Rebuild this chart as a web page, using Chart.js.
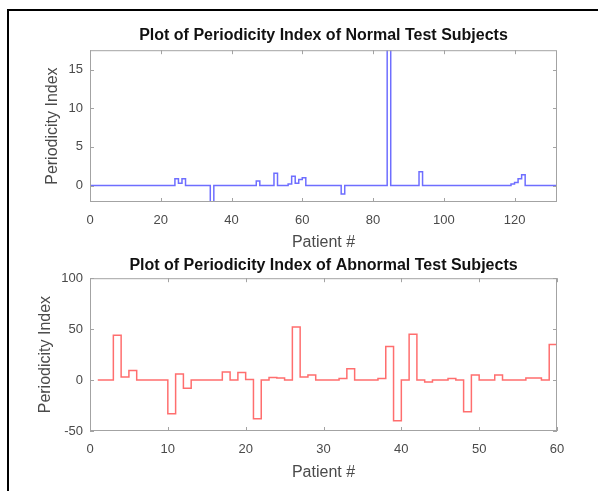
<!DOCTYPE html>
<html>
<head>
<meta charset="utf-8">
<script src="https://cdn.jsdelivr.net/npm/chart.js@4/dist/chart.umd.min.js"></script>
<style>
  html, body { margin: 0; padding: 0; background: #fff; }
  #page { position: relative; width: 598px; height: 491px; overflow: hidden; background: #fff; }
  #frame { position: absolute; left: 7px; top: 9px; width: 640px; height: 520px; border-left: 2px solid #000; border-top: 2px solid #000; }
  canvas { position: absolute; left: 0; }
  #normal-chart { top: 0; }
  #abnormal-chart { top: 250px; }
</style>
</head>
<body>
<div id="page">
  <div id="frame"></div>
  <canvas id="normal-chart" width="598" height="255"></canvas>
  <canvas id="abnormal-chart" width="598" height="241"></canvas>
</div>
<script>
// Periodicity index of normal subjects, patient 0..132 (stairs)
const normalValues = [
  0, 0, 0, 0, 0, 0, 0, 0, 0, 0,
  0, 0, 0, 0, 0, 0, 0, 0, 0, 0,
  0, 0, 0, 0, 0.9, 0.3, 0.9, 0, 0, 0,
  0, 0, 0, 0, -2.1, 0, 0, 0, 0, 0,
  0, 0, 0, 0, 0, 0, 0, 0.6, 0, 0,
  0, 0, 1.6, 0, 0, 0, 0.2, 1.2, 0.3, 0.8,
  1.0, 0, 0, 0, 0, 0, 0, 0, 0, 0,
  0, -1.1, 0, 0, 0, 0, 0, 0, 0, 0,
  0, 0, 0, 0, 40, 0, 0, 0, 0, 0,
  0, 0, 0, 1.8, 0, 0, 0, 0, 0, 0,
  0, 0, 0, 0, 0, 0, 0, 0, 0, 0,
  0, 0, 0, 0, 0, 0, 0, 0, 0, 0.2,
  0.4, 0.9, 1.4, 0, 0, 0, 0, 0, 0, 0,
  0, 0, 0
];

// Periodicity index of abnormal subjects, patient 1..60 (stairs)
const abnormalValues = [
  0, 0, 44, 3, 9.5, 0, 0, 0, 0, -33,
  6, -8, 0, 0, 0, 0, 8, 0, 7.5, 0.5,
  -38, 0, 2.5, 2, 0, 52, 3, 5, 0, 0,
  0, 1.5, 11, 0, 0, 0, 1.5, 33, -40, 0,
  45, 0, -2, 0, 0, 1.5, 0, -31, 5, 0,
  0, 5, 0, 0, 0, 2, 2, 0, 35, 0
];

const normalXTicks = [0, 20, 40, 60, 80, 100, 120];
const normalYTicks = [0, 5, 10, 15];
const abnormalXTicks = [0, 10, 20, 30, 40, 50, 60];
const abnormalYTicks = [-50, 0, 50, 100];

Chart.defaults.font.family = '"Liberation Sans", Arial, Helvetica, sans-serif';
Chart.defaults.color = '#4a4a4a';

// MATLAB-like box with inward tick marks
const axesBox = {
  id: 'axesBox',
  afterDraw(chart) {
    const { ctx, chartArea: a, scales: { x, y } } = chart;
    ctx.save();
    ctx.strokeStyle = '#a3a3a3';
    ctx.lineWidth = 1;
    ctx.strokeRect(a.left + 0.5, a.top + 0.5, a.right - a.left - 1, a.bottom - a.top - 1);
    ctx.beginPath();
    x.ticks.forEach(t => {
      const px = Math.round(x.getPixelForValue(t.value)) + 0.5;
      ctx.moveTo(px, a.bottom); ctx.lineTo(px, a.bottom - 4);
      ctx.moveTo(px, a.top); ctx.lineTo(px, a.top + 4);
    });
    y.ticks.forEach(t => {
      const py = Math.round(y.getPixelForValue(t.value)) + 0.5;
      ctx.moveTo(a.left, py); ctx.lineTo(a.left + 4, py);
      ctx.moveTo(a.right, py); ctx.lineTo(a.right - 4, py);
    });
    ctx.stroke();
    ctx.restore();
  }
};

function makeChart(canvasId, opts) {
  const points = opts.values.map((v, i) => ({ x: opts.firstX + i, y: v }));
  return new Chart(document.getElementById(canvasId), {
    type: 'line',
    data: {
      datasets: [{
        data: points,
        stepped: true,
        borderColor: opts.color,
        borderWidth: 1.5,
        pointRadius: 0,
        fill: false
      }]
    },
    options: {
      responsive: false,
      animation: false,
      devicePixelRatio: 1,
      layout: { padding: { left: 0, right: 41, top: 0, bottom: 0 } },
      plugins: {
        legend: { display: false },
        tooltip: { enabled: false },
        title: {
          display: true,
          text: opts.title,
          fullSize: false,
          color: '#111',
          font: { size: 16, weight: 'bold' },
          padding: opts.titlePadding
        }
      },
      scales: {
        x: {
          type: 'linear',
          min: opts.xMin,
          max: opts.xMax,
          grid: { display: false, drawTicks: false },
          border: { display: false },
          ticks: { font: { size: 13 }, padding: 11 },
          afterBuildTicks: s => { s.ticks = opts.xTicks.map(v => ({ value: v })); },
          afterFit: s => { s.height = opts.xAxisHeight; },
          title: { display: true, text: 'Patient #', font: { size: 16 }, padding: { top: 0, bottom: opts.xTitlePad } }
        },
        y: {
          min: opts.yMin,
          max: opts.yMax,
          grid: { display: false, drawTicks: false },
          border: { display: false },
          ticks: { font: { size: 13 }, padding: 7 },
          afterBuildTicks: s => { s.ticks = opts.yTicks.map(v => ({ value: v })); },
          afterFit: s => { s.width = 90; },
          title: { display: true, text: 'Periodicity Index', font: { size: 16 }, padding: { top: opts.yTitlePad, bottom: 0 } }
        }
      }
    },
    plugins: [axesBox]
  });
}

makeChart('normal-chart', {
  values: normalValues,
  firstX: 0,
  color: '#6e6eff',
  title: 'Plot of Periodicity Index of Normal Test Subjects',
  titlePadding: { top: 26, bottom: 5 },
  xMin: 0, xMax: 132, xTicks: normalXTicks,
  yMin: -2.12, yMax: 17.5, yTicks: normalYTicks,
  xAxisHeight: 53, xTitlePad: 3,
  yTitlePad: 43
});

makeChart('abnormal-chart', {
  values: abnormalValues,
  firstX: 1,
  color: '#ff6e6e',
  title: 'Plot of Periodicity Index of Abnormal Test Subjects',
  titlePadding: { top: 6, bottom: 3 },
  xMin: 0, xMax: 60, xTicks: abnormalXTicks,
  yMin: -50, yMax: 100, yTicks: abnormalYTicks,
  xAxisHeight: 60, xTitlePad: 9,
  yTitlePad: 36
});
</script>
</body>
</html>
